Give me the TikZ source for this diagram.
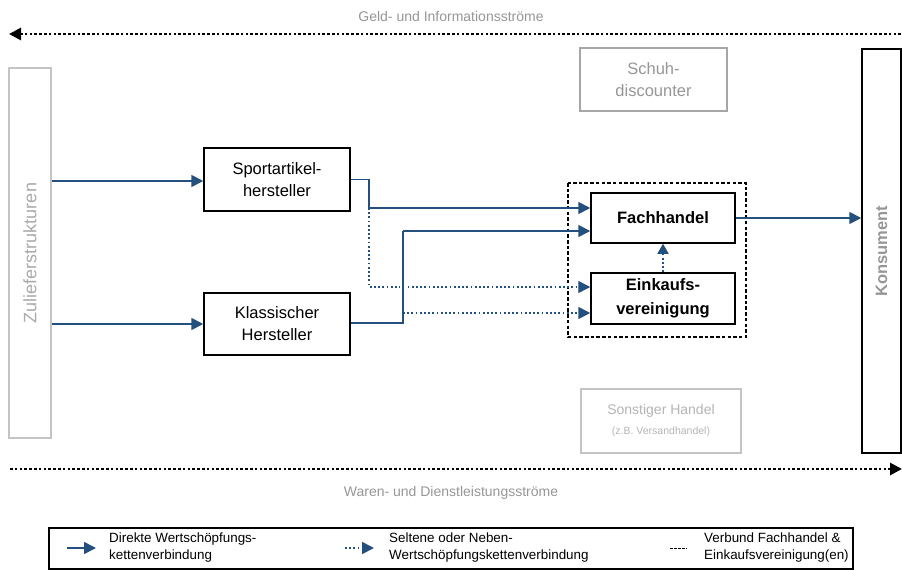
\documentclass[tikz,border=0pt]{standalone}
\usepackage{fontspec}
\setmainfont{Liberation Sans}
\usetikzlibrary{arrows.meta}
\definecolor{flowblue}{RGB}{35,80,125}
\definecolor{lightborder}{RGB}{196,196,196}
\definecolor{midborder}{RGB}{166,166,166}
\definecolor{graytext}{RGB}{150,150,150}
\definecolor{lighttext}{RGB}{180,180,180}
\definecolor{zultextcol}{RGB}{170,170,170}
\tikzset{
  boxfont/.style={font=\fontsize{16.5}{22}\selectfont},
  boldfont/.style={font=\fontsize{16.5}{24}\selectfont\bfseries},
  mainbox/.style={draw=black, line width=1.5pt, fill=white, inner sep=0pt, align=center, boxfont},
  greybox/.style={draw=midborder, line width=1.4pt, inner sep=0pt, align=center, boxfont, text=graytext},
  flow/.style={draw=flowblue, line width=1.7pt, -{Triangle[length=12pt,width=12pt]}},
  thinflow/.style={draw=flowblue, line width=1.3pt},
  sideflow/.style={draw=flowblue, line width=1.7pt, dash pattern=on 1.8pt off 2.4pt, -{Triangle[length=12pt,width=12pt]}},
  bigflow/.style={draw=black, line width=2.8pt, dash pattern=on 2.6pt off 2.2pt, -{Triangle[length=12pt,width=12pt]}},
  legtext/.style={anchor=west, align=left, inner sep=0pt, font=\fontsize{13.4}{17}\selectfont},
}
\begin{document}
\begin{tikzpicture}[x=1pt,y=-1pt]
\useasboundingbox (0,0) rectangle (902,570);

% flow labels
\node[text=graytext, font=\fontsize{14}{16}\selectfont] (geld) at (451,16) {Geld- und Informationsströme};
\node[text=graytext, font=\fontsize{14}{16}\selectfont] (waren) at (451,493) {Waren- und Dienstleistungsströme};
\coordinate (topR) at (901,34);
\coordinate (topL) at (9,34);
\coordinate (botL) at (10,469);
\coordinate (botR) at (902,469);
\draw[bigflow] (topR) -- (topL);
\draw[bigflow] (botL) -- (botR);

% outer boxes
\node[draw=lightborder, line width=1.4pt, minimum width=42pt, minimum height=370pt, inner sep=0pt] (zul) at (30,253) {};
\node[rotate=90, text=zultextcol, font=\fontsize{18}{22}\selectfont] (zultext) at (zul.center) {Zulieferstrukturen};
\node[draw=black, line width=1.5pt, minimum width=39pt, minimum height=404pt, inner sep=0pt] (kons) at (881.5,251) {};
\node[rotate=90, text=graytext, boldfont] (konstext) at (kons.center) {Konsument};

\node[greybox, minimum width=147pt, minimum height=63pt] (schuh) at (653.5,79.5) {Schuh-\\discounter};
\node[greybox, draw=lightborder, minimum width=160pt, minimum height=64pt, text=lighttext] (sonst) at (661,421)
  {\fontsize{14}{17}\selectfont Sonstiger Handel\\[-2pt]{\fontsize{10.5}{13}\selectfont (z.B. Versandhandel)}};

% producers
\node[mainbox, minimum width=146pt, minimum height=63pt] (sport) at (277,179.5) {Sportartikel-\\hersteller};
\node[mainbox, minimum width=146pt, minimum height=62pt] (klass) at (277,324) {Klassischer\\Hersteller};

% trade
\draw[black, line width=1.2pt, dash pattern=on 3.5pt off 2.2pt] (568,183) rectangle (746,337);
\node[mainbox, minimum width=144pt, minimum height=50pt, boldfont] (fach) at (663,218) {Fachhandel};
\node[mainbox, minimum width=144pt, minimum height=51pt, boldfont] (eink) at (663,298.5) {Einkaufs-\\vereinigung};

% connectors
\draw[flow] (zul.east |- 0,181) -- (sport.west |- 0,181);
\draw[flow] (zul.east |- klass.west) -- (klass.west);

\coordinate (s1) at (369,208);
\coordinate (s2) at (369,287);
\coordinate (k1) at (403,231);
\coordinate (k2) at (403,313);

\draw[thinflow] (sport.east) -| (s1);
\draw[flow] (s1) -- (fach.west |- s1);
\draw[sideflow, line width=1.4pt] (s1) -- (s2) -- (eink.west |- s2);
\draw[thinflow, preaction={draw=white, line width=6pt}] (klass.east |- 0,323) -| (403,240);
\draw[thinflow] (403,323) -- (k1);
\draw[flow] (k1) -- (fach.west |- k1);
\draw[sideflow] (k2) -- (eink.west |- k2);
\draw[sideflow, -{Triangle[length=10pt,width=11pt]}] (eink.north) -- (fach.south);
\draw[flow] (fach.east) -- (kons.west |- fach.east);

% legend
\node[draw=black, line width=1.1pt, minimum width=804pt, minimum height=41pt, inner sep=0pt] (leg) at (451,548.5) {};
\coordinate (l1a) at (67,548);
\coordinate (l1b) at (96,548);
\draw[flow] (l1a) -- (l1b);
\node[legtext] (lt1) at (109,548) {Direkte Wertschöpfungs-\\kettenverbindung};
\coordinate (l2a) at (345,548);
\coordinate (l2b) at (374,548);
\draw[sideflow] (l2a) -- (l2b);
\node[legtext] (lt2) at (389,548) {Seltene oder Neben-\\Wertschöpfungskettenverbindung};
\coordinate (l3a) at (670,548);
\coordinate (l3b) at (687,548);
\draw[black, line width=1pt, dash pattern=on 2.5pt off 1.5pt] (l3a) -- (l3b);
\node[legtext] (lt3) at (704,548) {Verbund Fachhandel \&\\Einkaufsvereinigung(en)};
\end{tikzpicture}
\end{document}
